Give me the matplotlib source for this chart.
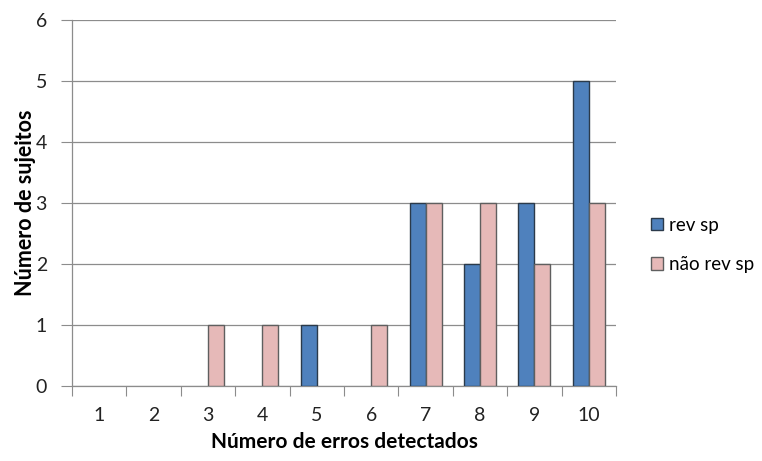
import matplotlib
matplotlib.use("Agg")
import matplotlib.pyplot as plt
import numpy as np
from matplotlib.patches import Patch

categories = ["1", "2", "3", "4", "5", "6", "7", "8", "9", "10"]
rev_sp = [0, 0, 0, 0, 1, 0, 3, 2, 3, 5]
nao_rev_sp = [0, 0, 1, 1, 0, 1, 3, 3, 2, 3]
series_names = ["rev sp", "não rev sp"]
y_ticks = [0, 1, 2, 3, 4, 5, 6]

plt.rcParams['font.family'] = ['Lato', 'DejaVu Sans']

fig = plt.figure(figsize=(7.62, 4.61), dpi=100)
ax = fig.add_axes([72/762, 1 - 386/461, (616-72)/762, (386-20)/461])

x = np.arange(1, len(categories) + 1)
w = 0.294
blue = "#4F81BD"
pink = "#E6B9B8"
for xi, v in zip(x, rev_sp):
    if v > 0:
        ax.bar(xi - w/2, v, width=w, color=blue, edgecolor="#2b3a4a", linewidth=1.0, zorder=3)
for xi, v in zip(x, nao_rev_sp):
    if v > 0:
        ax.bar(xi + w/2, v, width=w, color=pink, edgecolor="#5f5f5f", linewidth=1.0, zorder=3)

ax.set_xlim(0.5, len(categories) + 0.5)
ax.set_ylim(0, 6)
ax.set_yticks(y_ticks)
ax.yaxis.grid(True, color="#8c8c8c", linewidth=0.9, zorder=0)
ax.set_axisbelow(True)

ax.set_xticks(np.arange(0.5, len(categories) + 1, 1.0))
ax.set_xticklabels([])
ax.set_xticks(x, minor=True)
ax.set_xticklabels(categories, minor=True)
ax.tick_params(axis='x', which='major', length=7, color="#8c8c8c", direction='out')
ax.tick_params(axis='x', which='minor', length=0, pad=15, labelsize=14, labelcolor="#222222")
ax.tick_params(axis='y', length=8, color="#8c8c8c", direction='out', labelsize=14, pad=10, labelcolor="#222222")

for s in ["top", "right"]:
    ax.spines[s].set_visible(False)
for s in ["left", "bottom"]:
    ax.spines[s].set_color("#8c8c8c")
    ax.spines[s].set_linewidth(0.9)

ax.set_xlabel("Número de erros detectados", fontsize=15, fontweight="bold", labelpad=6)
ax.set_ylabel("Número de sujeitos", fontsize=15.5, fontweight="bold", labelpad=0)

handles = [Patch(facecolor=blue, edgecolor="#2b3a4a", linewidth=1.0),
           Patch(facecolor=pink, edgecolor="#5f5f5f", linewidth=1.0)]
leg = fig.legend(handles, series_names, loc="center left", bbox_to_anchor=(651/762, 1 - 245/461),
                 frameon=False, fontsize=13.5, handlelength=0.65, handleheight=0.65,
                 handletextpad=0.3, labelspacing=1.2, borderpad=0, borderaxespad=0)

fig.savefig("out.png", dpi=100)
